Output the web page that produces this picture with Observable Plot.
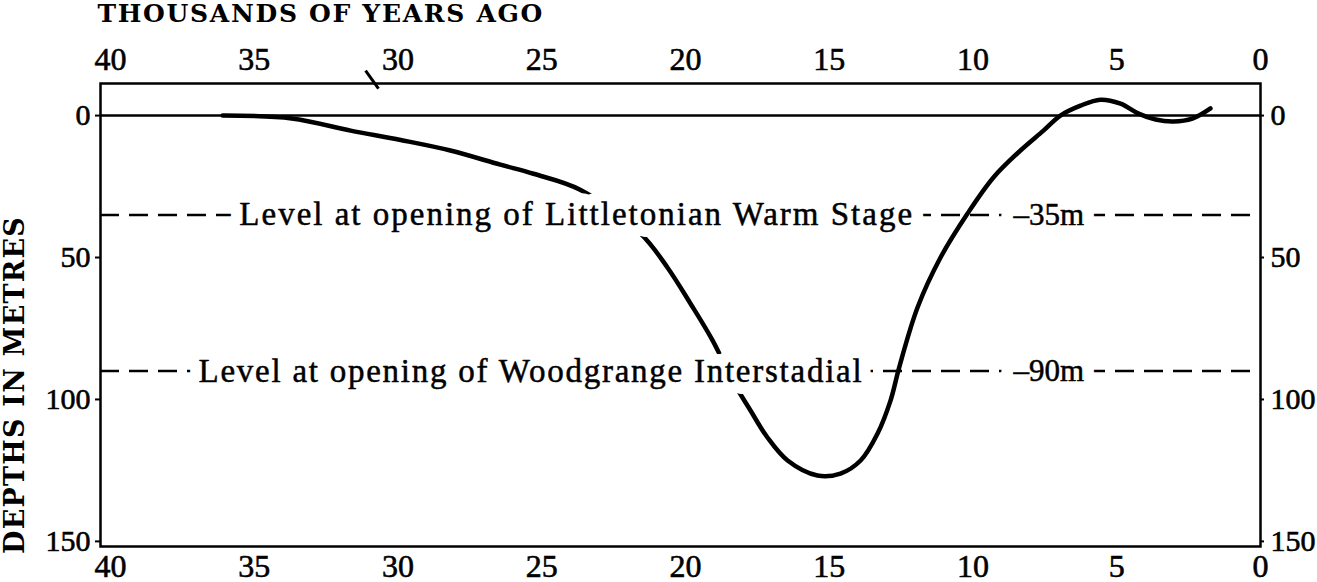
<!DOCTYPE html>
<html><head><meta charset="utf-8">
<script src="https://cdn.jsdelivr.net/npm/d3@7"></script>
<script src="https://cdn.jsdelivr.net/npm/@observablehq/plot@0.6"></script>
<style>
html,body{margin:0;padding:0;background:#fff;}
#chart{width:1317px;height:582px;}
g[aria-label$="tick label"] text{stroke:#000;stroke-width:0.6px;}
</style>
</head><body><div id="chart"></div>
<script>
// ---- data ----
const xTitle = "THOUSANDS OF YEARS AGO";
const yTitle = "DEPTHS IN METRES";
const xTicks = [40, 35, 30, 25, 20, 15, 10, 5, 0];
const yTicks = [0, 50, 100, 150];

// sea-level curve: age (thousands of years ago) and depth (m below present level)
const curveAge = [36.1, 33.7, 31.65, 29.91, 28.18, 26.44, 25.29, 23.65, 21.57, 20.63, 19.83, 19.06,
  18.33, 17.74, 17.15, 16.45, 15.41, 14.61, 13.91, 13.32, 12.87, 12.56, 11.93, 11.13, 10.19, 9.29,
  8.35, 7.55, 6.96, 6.26, 5.57, 4.87, 4.24, 3.65, 3.03, 2.37, 1.74];
const curveDepth = [0, 1.0, 5.3, 8.6, 12.3, 17.3, 20.5, 26.2, 41.5, 53.5, 66.2, 79.2,
  94.0, 103.9, 113.4, 121.5, 126.8, 126.1, 121.5, 112.0, 100.4, 88.4, 67.6, 50.0, 34.5, 21.8,
  12.3, 5.3, 0, -3.5, -5.6, -4.2, -0.7, 1.4, 2.1, 1.1, -2.5];

// reference levels
const levelDepths = [35, 90];
const levelNames = ["Level at opening of Littletonian Warm Stage", "Level at opening of Woodgrange Interstadial"];
const levelNameAge = [35.52, 36.94];   // where each label starts (ka)
const levelTagAge = [8.59, 8.59];      // where the "–35m" / "–90m" tags start (ka)

// small slanted stroke on the top axis
const breakAge = [31.13, 30.68];
const breakDepth = [-15.8, -9.5];

// ---- build tables ----
const curve = curveAge.map((a, i) => ({age: a, depth: curveDepth[i]}));
const breakMark = [{x1: breakAge[0], y1: breakDepth[0], x2: breakAge[1], y2: breakDepth[1]}];
const levels = levelDepths.map((d, i) => ({depth: d, name: levelNames[i], nameAge: levelNameAge[i], tagAge: levelTagAge[i], tag: "\u2013" + d + "m"}));

const haloWide = {fill: "white", stroke: "white", strokeWidth: 24, strokeLinejoin: "round"};
const haloNarrow = {fill: "white", stroke: "white", strokeWidth: 9, strokeLinejoin: "round"};
const nameOpts = {x: "nameAge", y: "depth", text: "name", textAnchor: "start", fontSize: 33};
const tagOpts = {x: "tagAge", y: "depth", text: "tag", textAnchor: "start", fontSize: 31};
const ink = {fill: "black", stroke: "black", strokeWidth: 0.5};

const plot = Plot.plot({
  width: 1317, height: 582,
  marginLeft: 100, marginRight: 57, marginTop: 83, marginBottom: 36,
  x: {domain: [40.35, 0]},
  y: {domain: [-11.3, 151.8], reverse: true},
  style: {fontFamily: "'Liberation Serif', serif", fontSize: "30px", background: "white", color: "black", overflow: "visible"},
  marks: [
    Plot.ruleY([0], {strokeWidth: 2.5}),
    Plot.ruleY(levels, {y: "depth", strokeWidth: 2.5, strokeDasharray: "19,10"}),
    Plot.line(curve, {x: "age", y: "depth", curve: "catmull-rom", strokeWidth: 4.5}),
    Plot.link(breakMark, {x1: "x1", y1: "y1", x2: "x2", y2: "y2", strokeWidth: 3}),
    // white knock-out behind labels, then the labels themselves
    Plot.text(levels, {...nameOpts, ...haloWide}),
    Plot.text(levels, {...tagOpts, ...haloWide}),
    Plot.text(levels, {...nameOpts, ...haloNarrow}),
    Plot.text(levels, {...tagOpts, ...haloNarrow}),
    Plot.text(levels, {...nameOpts, ...ink}),
    Plot.text(levels, {...tagOpts, ...ink}),
    Plot.frame({strokeWidth: 2.5}),
    Plot.axisX({anchor: "top", ticks: xTicks, tickSize: 0, tickPadding: 14, label: null, fontSize: 32, tickFormat: d => String(d)}),
    Plot.axisX({anchor: "bottom", ticks: xTicks, tickSize: 0, tickPadding: 8, label: null, fontSize: 32, tickFormat: d => String(d)}),
    Plot.axisY({anchor: "left", ticks: yTicks, tickSize: 5, tickPadding: 5, label: null, strokeWidth: 2, tickFormat: d => String(d)}),
    Plot.axisY({anchor: "right", ticks: yTicks, tickSize: 3, tickPadding: 7, label: null, strokeWidth: 2, tickFormat: d => String(d)}),
    Plot.text([xTitle], {text: d => d, frameAnchor: "top-left", dx: -3, dy: -62, textAnchor: "start", lineAnchor: "bottom",
      fontFamily: "'DejaVu Serif', serif", fontWeight: "bold", fontSize: 25}),
    Plot.text([yTitle], {text: d => d, frameAnchor: "left", rotate: -90, dx: -85, dy: 70, textAnchor: "middle", lineAnchor: "middle",
      fontFamily: "'DejaVu Serif', serif", fontWeight: "bold", fontSize: 27})
  ]
});

const spacing = new Map([[xTitle, "1.7px"], [yTitle, "1.2px"], [levelNames[0], "2px"], [levelNames[1], "1.75px"]]);
plot.querySelectorAll("text").forEach(t => { const s = spacing.get(t.textContent); if (s) t.style.letterSpacing = s; });
document.getElementById("chart").appendChild(plot);
</script>
</body></html>
